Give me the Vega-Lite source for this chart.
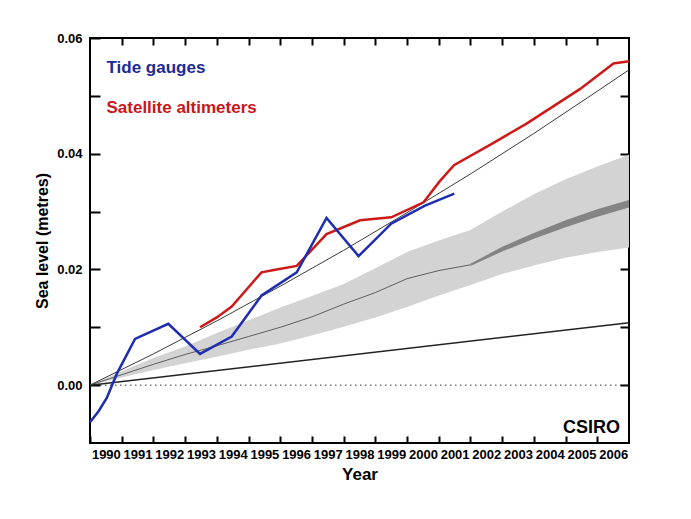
{
  "$schema": "https://vega.github.io/schema/vega-lite/v6.json",
  "width": 539,
  "height": 405,
  "autosize": "none",
  "padding": {"left": 90, "top": 38, "right": 62, "bottom": 76},
  "background": "white",
  "config": {
    "view": {"stroke": "black", "strokeWidth": 2},
    "font": "Liberation Sans",
    "axis": {
      "labelFont": "Liberation Sans",
      "labelFontWeight": "bold",
      "labelFontSize": 13,
      "labelColor": "black",
      "titleFont": "Liberation Sans",
      "titleFontWeight": "bold",
      "titleColor": "black",
      "grid": false,
      "domain": false,
      "ticks": true,
      "tickColor": "black",
      "tickOpacity": 1,
      "tickWidth": 2,
      "zindex": 2
    }
  },
  "datasets": {
    "projection": [
      {"year": 1990, "lo": 0.0, "mid": 0.0, "hi": 0.0},
      {"year": 1991, "lo": 0.0013, "mid": 0.0018, "hi": 0.0024},
      {"year": 1992, "lo": 0.0026, "mid": 0.0036, "hi": 0.0047},
      {"year": 1993, "lo": 0.0038, "mid": 0.0053, "hi": 0.0067},
      {"year": 1994, "lo": 0.0049, "mid": 0.0068, "hi": 0.009},
      {"year": 1995, "lo": 0.0061, "mid": 0.0084, "hi": 0.0112},
      {"year": 1996, "lo": 0.0072, "mid": 0.01, "hi": 0.0134},
      {"year": 1997, "lo": 0.0086, "mid": 0.0118, "hi": 0.0154},
      {"year": 1998, "lo": 0.0101, "mid": 0.014, "hi": 0.0175},
      {"year": 1999, "lo": 0.0117, "mid": 0.016, "hi": 0.0202},
      {"year": 2000, "lo": 0.0135, "mid": 0.0184, "hi": 0.023},
      {"year": 2001, "lo": 0.0155, "mid": 0.0198, "hi": 0.025},
      {"year": 2002, "lo": 0.0173, "mid": 0.0208, "hi": 0.0268},
      {"year": 2003, "lo": 0.0192, "mid": 0.0235, "hi": 0.03},
      {"year": 2004, "lo": 0.0207, "mid": 0.0258, "hi": 0.033},
      {"year": 2005, "lo": 0.022, "mid": 0.0279, "hi": 0.0356},
      {"year": 2006, "lo": 0.023, "mid": 0.0297, "hi": 0.0378},
      {"year": 2007, "lo": 0.0238, "mid": 0.0313, "hi": 0.0398}
    ],
    "central": [
      {"year": 2002, "lo": 0.0206, "hi": 0.021},
      {"year": 2003, "lo": 0.0231, "hi": 0.0239},
      {"year": 2004, "lo": 0.0253, "hi": 0.0263},
      {"year": 2005, "lo": 0.0273, "hi": 0.0285},
      {"year": 2006, "lo": 0.0291, "hi": 0.0304},
      {"year": 2007, "lo": 0.0307, "hi": 0.032}
    ],
    "zero": [
      {"year": 1990, "value": 0},
      {"year": 2007, "value": 0}
    ],
    "trendLow": [
      {"year": 1990, "value": 0},
      {"year": 2007, "value": 0.0108}
    ],
    "trendHigh": [
      {"year": 1990, "value": 0},
      {"year": 1992, "value": 0.0054},
      {"year": 1994, "value": 0.0111},
      {"year": 1996, "value": 0.0171},
      {"year": 1998, "value": 0.0233},
      {"year": 2000, "value": 0.0298},
      {"year": 2002, "value": 0.0365},
      {"year": 2004, "value": 0.0435},
      {"year": 2006, "value": 0.0508},
      {"year": 2007, "value": 0.0545}
    ],
    "satellite": [
      {"year": 1993.47, "value": 0.01},
      {"year": 1994.0, "value": 0.0117},
      {"year": 1994.47, "value": 0.0136},
      {"year": 1995.41, "value": 0.0195},
      {"year": 1995.8, "value": 0.0199},
      {"year": 1996.52, "value": 0.0206},
      {"year": 1997.46, "value": 0.0261},
      {"year": 1997.95, "value": 0.0272},
      {"year": 1998.52, "value": 0.0285},
      {"year": 1999.5, "value": 0.029},
      {"year": 2000.52, "value": 0.0316},
      {"year": 2001.04, "value": 0.0353},
      {"year": 2001.48, "value": 0.038},
      {"year": 2002.7, "value": 0.0418},
      {"year": 2003.77, "value": 0.0452},
      {"year": 2004.5, "value": 0.0478},
      {"year": 2005.46, "value": 0.0512},
      {"year": 2006.51, "value": 0.0556},
      {"year": 2007.0, "value": 0.056}
    ],
    "tide": [
      {"year": 1990.0, "value": -0.0064},
      {"year": 1990.27, "value": -0.0045},
      {"year": 1990.53, "value": -0.0022},
      {"year": 1990.84, "value": 0.0019},
      {"year": 1991.42, "value": 0.008},
      {"year": 1992.47, "value": 0.0106},
      {"year": 1993.47, "value": 0.0054},
      {"year": 1994.47, "value": 0.0084},
      {"year": 1995.41, "value": 0.0155},
      {"year": 1996.52, "value": 0.0195},
      {"year": 1997.46, "value": 0.0289},
      {"year": 1998.47, "value": 0.0223},
      {"year": 1999.5, "value": 0.0279},
      {"year": 2000.55, "value": 0.031},
      {"year": 2001.49, "value": 0.0331}
    ]
  },
  "layer": [
    {
      "data": {"name": "projection"},
      "mark": {"type": "area", "color": "#d3d3d3"},
      "encoding": {
        "x": {
          "field": "year",
          "type": "quantitative",
          "scale": {"domain": [1990, 2007], "nice": false, "zero": false},
          "axis": {
            "orient": "bottom",
            "values": [1990, 1991, 1992, 1993, 1994, 1995, 1996, 1997, 1998, 1999, 2000, 2001, 2002, 2003, 2004, 2005, 2006],
            "format": "d",
            "labelOffset": 15.85,
            "tickSize": -7,
            "labelPadding": 12,
            "labelFlush": false,
            "labelOverlap": false,
            "labelBound": false,
            "title": "Year",
            "titleFontSize": 17,
            "titlePadding": 5
          }
        },
        "y": {
          "field": "lo",
          "type": "quantitative",
          "scale": {"domain": [-0.01, 0.06], "nice": false, "zero": false},
          "axis": {
            "orient": "left",
            "values": [0, 0.01, 0.02, 0.03, 0.04, 0.05, 0.06],
            "labelExpr": "round(datum.value * 100) % 2 == 0 ? format(datum.value, '.2f') : ''",
            "tickSize": -10,
            "labelPadding": 18,
            "labelFlush": false,
            "labelOverlap": false,
            "title": "Sea level (metres)",
            "titleFontSize": 16,
            "titlePadding": 6
          }
        },
        "y2": {"field": "hi"}
      }
    },
    {
      "data": {"name": "zero"},
      "mark": {"type": "line", "color": "#333333", "strokeWidth": 1, "strokeDash": [1.5, 3.5]},
      "encoding": {
        "x": {
          "field": "year",
          "type": "quantitative",
          "axis": {
            "orient": "top",
            "values": [1991, 1992, 1993, 1994, 1995, 1996, 1997, 1998, 1999, 2000, 2001, 2002, 2003, 2004, 2005, 2006],
            "labels": false,
            "tickSize": -7,
            "title": null
          }
        },
        "y": {
          "field": "value",
          "type": "quantitative",
          "axis": {
            "orient": "right",
            "values": [0, 0.01, 0.02, 0.03, 0.04, 0.05],
            "labels": false,
            "tickSize": -9,
            "title": null
          }
        }
      }
    },
    {
      "data": {"name": "projection"},
      "transform": [{"filter": "datum.year <= 2002"}],
      "mark": {"type": "line", "color": "#5e5e5e", "strokeWidth": 1},
      "encoding": {
        "x": {"field": "year", "type": "quantitative", "axis": null},
        "y": {"field": "mid", "type": "quantitative", "axis": null}
      }
    },
    {
      "data": {"name": "central"},
      "mark": {"type": "area", "color": "#848484"},
      "encoding": {
        "x": {"field": "year", "type": "quantitative", "axis": null},
        "y": {"field": "lo", "type": "quantitative", "axis": null},
        "y2": {"field": "hi"}
      }
    },
    {
      "data": {"name": "trendLow"},
      "mark": {"type": "line", "color": "#222222", "strokeWidth": 1.5},
      "encoding": {
        "x": {"field": "year", "type": "quantitative", "axis": null},
        "y": {"field": "value", "type": "quantitative", "axis": null}
      }
    },
    {
      "data": {"name": "trendHigh"},
      "mark": {"type": "line", "color": "#3a3a3a", "strokeWidth": 1},
      "encoding": {
        "x": {"field": "year", "type": "quantitative", "axis": null},
        "y": {"field": "value", "type": "quantitative", "axis": null}
      }
    },
    {
      "data": {"name": "satellite"},
      "mark": {"type": "line", "color": "#cc1a1a", "strokeWidth": 2.5},
      "encoding": {
        "x": {"field": "year", "type": "quantitative", "axis": null},
        "y": {"field": "value", "type": "quantitative", "axis": null}
      }
    },
    {
      "data": {"name": "tide"},
      "mark": {"type": "line", "color": "#1f2db0", "strokeWidth": 2.5},
      "encoding": {
        "x": {"field": "year", "type": "quantitative", "axis": null},
        "y": {"field": "value", "type": "quantitative", "axis": null}
      }
    },
    {
      "data": {"values": [{}]},
      "mark": {"type": "text", "align": "left", "baseline": "alphabetic", "fontSize": 17, "fontWeight": "bold", "font": "Liberation Sans", "color": "#1c2a96"},
      "encoding": {
        "x": {"datum": 1990.52, "type": "quantitative", "axis": null},
        "y": {"datum": 0.0539, "type": "quantitative", "axis": null},
        "text": {"value": "Tide gauges"}
      }
    },
    {
      "data": {"values": [{}]},
      "mark": {"type": "text", "align": "left", "baseline": "alphabetic", "fontSize": 17, "fontWeight": "bold", "font": "Liberation Sans", "color": "#c8161b"},
      "encoding": {
        "x": {"datum": 1990.52, "type": "quantitative", "axis": null},
        "y": {"datum": 0.047, "type": "quantitative", "axis": null},
        "text": {"value": "Satellite altimeters"}
      }
    },
    {
      "data": {"values": [{}]},
      "mark": {"type": "text", "align": "right", "baseline": "alphabetic", "fontSize": 18, "fontWeight": "bold", "font": "Liberation Sans", "color": "black"},
      "encoding": {
        "x": {"datum": 2006.72, "type": "quantitative", "axis": null},
        "y": {"datum": -0.0082, "type": "quantitative", "axis": null},
        "text": {"value": "CSIRO"}
      }
    }
  ],
  "resolve": {"axis": {"x": "independent", "y": "independent"}}
}
